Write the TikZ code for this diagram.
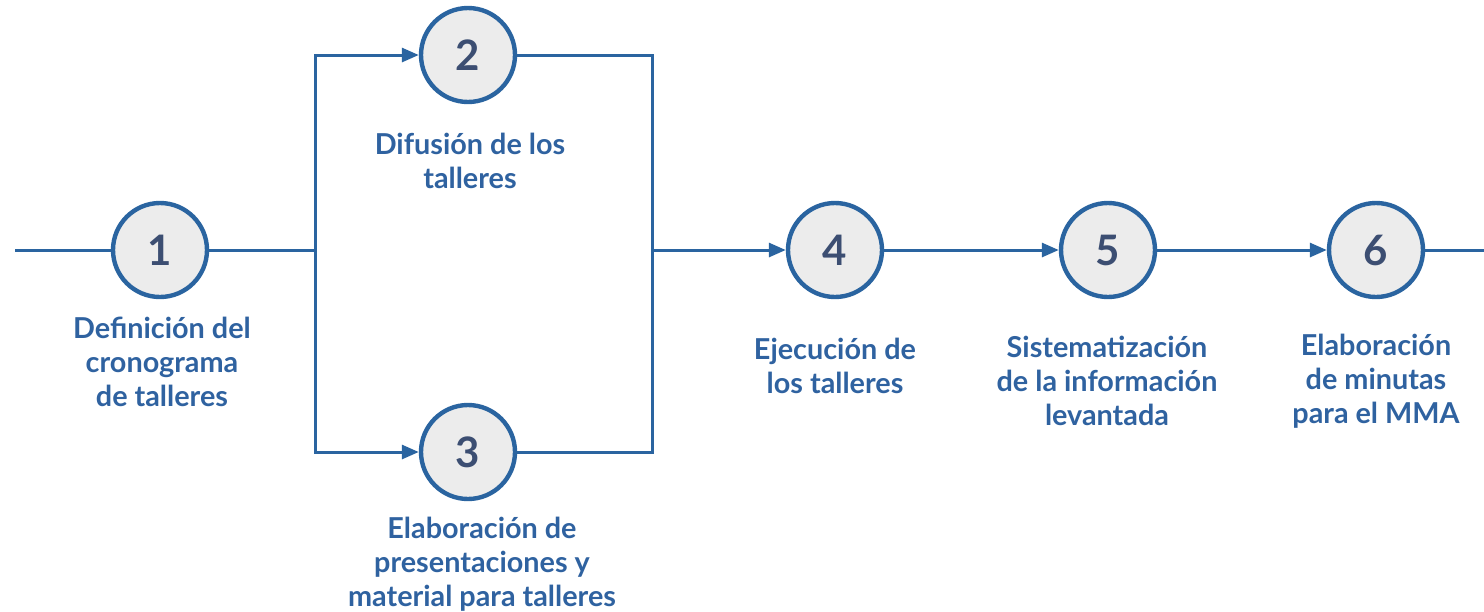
\documentclass[tikz,border=0pt]{standalone}
\usepackage{fontspec}
\setmainfont{Lato}
\usetikzlibrary{arrows.meta}
\definecolor{flowblue}{HTML}{2A64A0}
\definecolor{numblue}{HTML}{3C4E72}
\definecolor{textblue}{HTML}{2F62A0}
\definecolor{circfill}{HTML}{ECECEC}
\tikzset{
  stepcirc/.style={circle, draw=flowblue, line width=2.2pt, fill=circfill,
    minimum size=47pt, inner sep=0pt, text=numblue,
    font=\fontsize{21}{21}\selectfont\bfseries},
  steplabel/.style={align=center, text=textblue,
    font=\fontsize{14.4}{17}\selectfont\bfseries},
  flow/.style={draw=flowblue, line width=1.5pt},
  flowarrow/.style={flow, -{Triangle[length=8.5pt,width=7pt]}}
}
\begin{document}
\begin{tikzpicture}[x=0.5pt,y=-0.5pt]
  \useasboundingbox (0,0) rectangle (1484,611);
  % steps
  \node[stepcirc] (c1) at (160,250) {1};
  \node[stepcirc] (c2) at (468,55) {2};
  \node[stepcirc] (c3) at (468,452) {3};
  \node[stepcirc] (c4) at (835,250) {4};
  \node[stepcirc] (c5) at (1108,250) {5};
  \node[stepcirc] (c6) at (1376,250) {6};
  % labels
  \node[steplabel] (l1) at (162,362) {Definición del\\cronograma\\de talleres};
  \node[steplabel] (l2) at (470,161) {Difusión de los\\talleres};
  \node[steplabel] (l3) at (482,564) {Elaboración de\\presentaciones y\\material para talleres};
  \node[steplabel] (l4) at (835,366) {Ejecución de\\los talleres};
  \node[steplabel] (l5) at (1107,381) {Sistematización\\de la información\\levantada};
  \node[steplabel] (l6) at (1376,381) {Elaboración\\de minutas\\para el MMA};
  % junctions and loose ends
  \coordinate (start) at (15,250);
  \coordinate (split) at (315,250);
  \coordinate (merge) at (652,250);
  \coordinate (end) at (1484,250);
  % connectors
  \draw[flow] (start) -- (c1);
  \draw[flow] (c1) -- (split);
  \draw[flowarrow] (split) |- (c2);
  \draw[flowarrow] (split) |- (c3);
  \draw[flow] (c2) -| (merge);
  \draw[flow] (c3) -| (merge);
  \draw[flowarrow] (merge) -- (c4);
  \draw[flowarrow] (c4) -- (c5);
  \draw[flowarrow] (c5) -- (c6);
  \draw[flow] (c6) -- (end);
\end{tikzpicture}
\end{document}
